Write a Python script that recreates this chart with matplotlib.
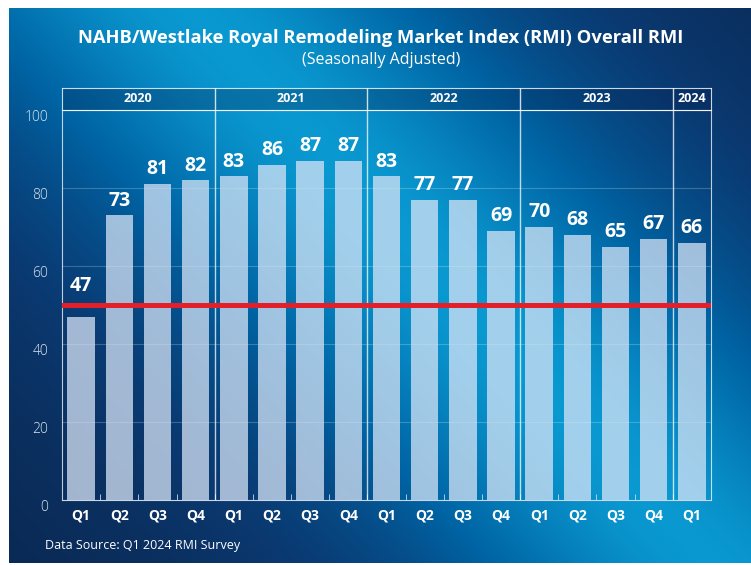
import matplotlib
matplotlib.use("Agg")
import matplotlib.pyplot as plt
import numpy as np
from matplotlib.colors import LinearSegmentedColormap

# Dane z wykresu RMI
years = ["2020", "2021", "2022", "2023", "2024"]
quarters_per_year = [4, 4, 4, 4, 1]
quarter_labels = ["Q1", "Q2", "Q3", "Q4"] * 4 + ["Q1"]
rmi_values = [47, 73, 81, 82, 83, 86, 87, 87, 83, 77, 77, 69, 70, 68, 65, 67, 66]
threshold = 50
y_ticks = [0, 20, 40, 60, 80, 100]

plt.rcParams['font.family'] = ['Open Sans', 'DejaVu Sans']

W, H = 751, 565
fig = plt.figure(figsize=(W / 100, H / 100), dpi=100, facecolor="white")

# Tło z gradientem
bg = fig.add_axes([9 / W, 2 / H, (W - 9) / W, (H - 10) / H])
bg.set_zorder(-10)
yy, xx = np.mgrid[0:H:2, 9:W:2]
line_x = 190 + 520 * yy / H
d = np.abs(xx - line_x)
t = 1.0 / (1.0 + (d / 270.0) ** 2)
cmap = LinearSegmentedColormap.from_list(
    "bg", [(0.0, "#0a1e40"), (0.3, "#0a3a72"), (0.6, "#0064a4"), (1.0, "#0a98d0")])
bg.imshow(t, cmap=cmap, vmin=0, vmax=1, aspect="auto", interpolation="bilinear")
bg.axis("off")

# Główny wykres
left, right, top, bottom = 62, 711, 110, 500
ax = fig.add_axes([left / W, (H - bottom) / H, (right - left) / W, (bottom - top) / H])
ax.set_facecolor("none")
n = len(rmi_values)
x = np.arange(n)
ax.set_xlim(-0.5, n - 0.5)
ax.set_ylim(0, 100)

for gy in y_ticks[1:-1]:
    ax.axhline(gy, color="white", alpha=0.22, lw=0.8, zorder=1)

ax.bar(x, rmi_values, width=0.72, color="#d6e4f6", alpha=0.75, zorder=2)
ax.axhline(threshold, color="#e3202a", lw=3.6, zorder=4)

for xi, v in zip(x, rmi_values):
    ly = v if v > threshold + 3 else threshold + 1
    ax.text(xi, ly + 1.2, str(v), ha="center", va="bottom", color="white",
            fontsize=14, fontweight="bold", zorder=5)

# Granice lat
bounds = np.cumsum(quarters_per_year)[:-1] - 0.5
for b in bounds:
    ax.axvline(b, color="white", alpha=0.75, lw=1, zorder=3)

for s in ["left", "right", "top"]:
    ax.spines[s].set_color("white")
    ax.spines[s].set_alpha(0.75)
ax.spines["bottom"].set_color("#c8d8ea")

ax.set_xticks(x)
ax.set_xticklabels(quarter_labels, color="white", fontsize=10, fontweight="bold")
ax.tick_params(axis="x", length=0, pad=6)
ax.set_xticks(np.arange(n - 1) + 0.5, minor=True)
ax.tick_params(axis="x", which="minor", direction="in", length=4, color="#c8d8ea")

ax.set_yticks(y_ticks)
ax.set_yticklabels([str(v) for v in y_ticks], color="#dce6f2", fontsize=10,
                   fontweight="light")
ax.tick_params(axis="y", length=0, pad=10)
for lbl in ax.get_yticklabels():
    lbl.set_va("top")

# Nagłówek z latami
hdr = fig.add_axes([left / W, (H - top) / H, (right - left) / W, 22 / H])
hdr.set_xlim(-0.5, n - 0.5)
hdr.set_ylim(0, 1)
hdr.set_facecolor((0.02, 0.12, 0.3, 0.3))
for s in hdr.spines.values():
    s.set_color("white")
    s.set_alpha(0.8)
hdr.set_xticks([])
hdr.set_yticks([])
starts = np.concatenate([[0], np.cumsum(quarters_per_year)[:-1]])
for yr, st, q in zip(years, starts, quarters_per_year):
    hdr.text(st + (q - 1) / 2, 0.5, yr, ha="center", va="center", color="white",
             fontsize=9, fontweight="bold")
for b in bounds:
    hdr.axvline(b, color="white", alpha=0.8, lw=1)

fig.text(381 / W, 1 - 38 / H,
         "NAHB/Westlake Royal Remodeling Market Index (RMI) Overall RMI",
         ha="center", va="center", color="white", fontsize=13.2, fontweight="bold")
fig.text(381 / W, 1 - 60 / H, "(Seasonally Adjusted)", ha="center", va="center",
         color="white", fontsize=11.5)
fig.text(45 / W, 1 - 546 / H, "Data Source: Q1 2024 RMI Survey", ha="left",
         va="center", color="white", fontsize=9)

fig.savefig("out.png", dpi=100, facecolor="white")
